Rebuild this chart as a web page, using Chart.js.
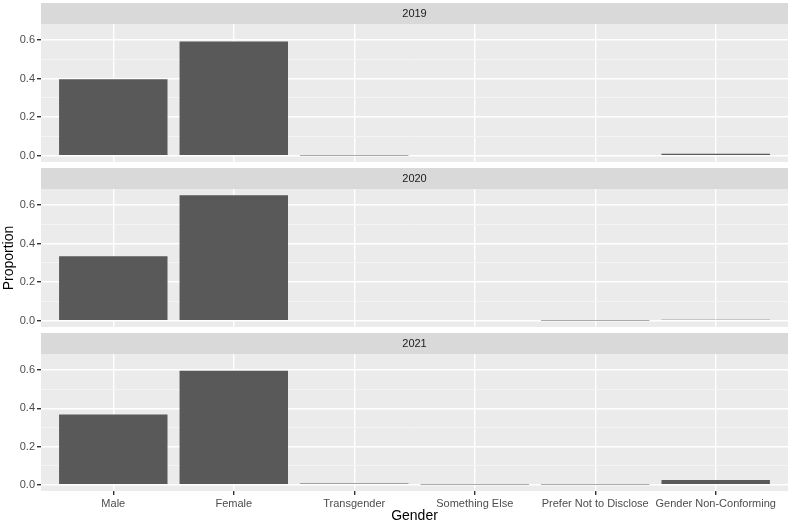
<!DOCTYPE html>
<html>
<head>
<meta charset="utf-8">
<script src="https://cdn.jsdelivr.net/npm/chart.js@4"></script>
<style>
  body { margin: 0; background: #fff; }
  #wrap { position: relative; width: 791px; height: 525px; }
  canvas { position: absolute; left: 0; }
</style>
</head>
<body>
<div id="wrap">
  <canvas id="c2019" width="791" height="171" style="top:0px"></canvas>
  <canvas id="c2020" width="791" height="171" style="top:165px"></canvas>
  <canvas id="c2021" width="791" height="195" style="top:330px"></canvas>
</div>
<script>
// data
const categories = ['Male', 'Female', 'Transgender', 'Something Else', 'Prefer Not to Disclose', 'Gender Non-Conforming'];
const years = ['2019', '2020', '2021'];
const prop2019 = [0.397, 0.593, 0.001, 0, 0, 0.010];
const prop2020 = [0.335, 0.651, 0.004, 0, 0.001, 0.005];
const prop2021 = [0.367, 0.596, 0.006, 0.001, 0.001, 0.025];
const yTicks = [0, 0.1, 0.2, 0.3, 0.4, 0.5, 0.6];

const FONT = "'Liberation Sans', Arial, sans-serif";
const allVals = prop2019.concat(prop2020, prop2021);
const yTop = Math.max(...allVals) * 1.05;
const yBottom = -Math.max(...allVals) * 0.05;

const isMajor = v => Math.round(v * 10) % 2 === 0;

// grey panel + facet strip, like ggplot
const stripPlugin = {
  id: 'strip',
  beforeDraw(chart, args, opts) {
    const { ctx, chartArea: a } = chart;
    ctx.save();
    ctx.fillStyle = '#EBEBEB';
    ctx.fillRect(a.left, a.top, a.right - a.left, a.bottom - a.top);
    ctx.fillStyle = '#D9D9D9';
    ctx.fillRect(a.left, a.top - 21, a.right - a.left, 21);
    ctx.fillStyle = '#1A1A1A';
    ctx.font = '11px ' + FONT;
    ctx.textAlign = 'center';
    ctx.textBaseline = 'middle';
    ctx.fillText(opts.label, (a.left + a.right) / 2, a.top - 10.5);
    ctx.restore();
  }
};

function makeChart(id, year, values, bottom, showYTitle) {
  return new Chart(document.getElementById(id), {
    type: 'bar',
    data: {
      datasets: [{
        data: values.map((v, i) => ({ x: i + 1, y: v })),
        backgroundColor: '#595959',
        barPercentage: 0.9,
        categoryPercentage: 1.0
      }]
    },
    options: {
      responsive: false,
      animation: false,
      layout: { padding: { top: 24, right: 3, bottom: bottom ? 0 : 9, left: 0 } },
      plugins: {
        legend: { display: false },
        tooltip: { enabled: false },
        strip: { label: year }
      },
      scales: {
        x: {
          type: 'linear',
          min: 0.4,
          max: 6.6,
          offset: false,
          afterBuildTicks: s => { s.ticks = categories.map((c, i) => ({ value: i + 1 })); },
          afterFit: s => { s.height = bottom ? 34 : 0; },
          border: { display: false },
          grid: {
            offset: false,
            color: '#FFFFFF',
            lineWidth: 1.4,
            drawTicks: bottom,
            tickLength: 4,
            tickColor: '#333333'
          },
          ticks: {
            display: bottom,
            autoSkip: false,
            maxRotation: 0,
            minRotation: 0,
            padding: 2,
            color: '#4D4D4D',
            font: { family: FONT, size: 11 },
            callback: v => categories[Math.round(v) - 1]
          },
          title: {
            display: bottom,
            text: 'Gender',
            color: '#000000',
            padding: 0,
            font: { family: FONT, size: 14 }
          }
        },
        y: {
          min: yBottom,
          max: yTop,
          afterBuildTicks: s => { s.ticks = yTicks.map(v => ({ value: v })); },
          afterFit: s => { s.width = 41; },
          border: { display: false },
          grid: {
            color: c => isMajor(c.tick.value) ? '#FFFFFF' : '#F4F4F4',
            lineWidth: c => isMajor(c.tick.value) ? 1.4 : 1,
            tickLength: 4,
            tickColor: c => isMajor(c.tick.value) ? '#333333' : 'rgba(0,0,0,0)'
          },
          ticks: {
            padding: 2,
            color: '#4D4D4D',
            font: { family: FONT, size: 11 },
            callback: v => isMajor(v) ? v.toFixed(1) : ''
          },
          title: {
            display: showYTitle,
            text: 'Proportion',
            color: '#000000',
            padding: { top: 1, bottom: 0 },
            font: { family: FONT, size: 14 }
          }
        }
      }
    },
    plugins: [stripPlugin]
  });
}

makeChart('c2019', years[0], prop2019, false, false);
makeChart('c2020', years[1], prop2020, false, true);
makeChart('c2021', years[2], prop2021, true, false);
</script>
</body>
</html>
